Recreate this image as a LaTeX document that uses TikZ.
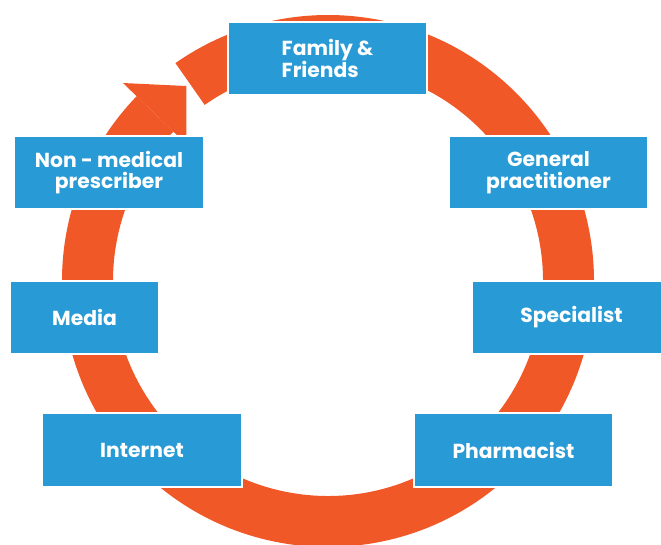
\documentclass[tikz,border=0pt]{standalone}
\usepackage{fontspec}
\setmainfont{Poppins}
\definecolor{ringorange}{RGB}{240,88,40}
\definecolor{boxblue}{RGB}{40,155,214}
\begin{document}
\begin{tikzpicture}[x=1pt,y=1pt,
  infobox/.style={fill=boxblue, draw=white, line width=1.6pt, inner sep=0pt,
    minimum height=73pt, text=white, font=\fontsize{20.3}{21.5}\selectfont\bfseries, align=center}]
\useasboundingbox (0,0) rectangle (661,544);
% ring
\begin{scope}[shift={(328,263)}]
  \fill[ringorange] (136:266) arc[start angle=136, end angle=485, radius=266]
    -- (125:215) arc[start angle=125, end angle=-224, radius=215] -- cycle;
  \fill[ringorange] (126:241) -- (136:285) -- (136:197) -- cycle;
\end{scope}
% boxes
\node[infobox, minimum width=199pt, align=left] (family) at (327.5,485.5) {Family \&\\Friends};
\node[infobox, minimum width=190pt] (nonmed) at (109,371.5) {Non - medical\\prescriber};
\node[infobox, minimum width=199pt] (gp) at (548.5,371.5) {General\\practitioner};
\node[infobox, minimum width=149pt] (media) at (84.5,226.5) {Media};
\node[infobox, minimum width=199pt] (spec) at (571.5,226.5) {Specialist};
\node[infobox, minimum width=200pt, minimum height=74pt] (internet) at (142,94) {Internet};
\node[infobox, minimum width=199pt, minimum height=74pt] (pharm) at (513.5,94) {Pharmacist};
\end{tikzpicture}
\end{document}
